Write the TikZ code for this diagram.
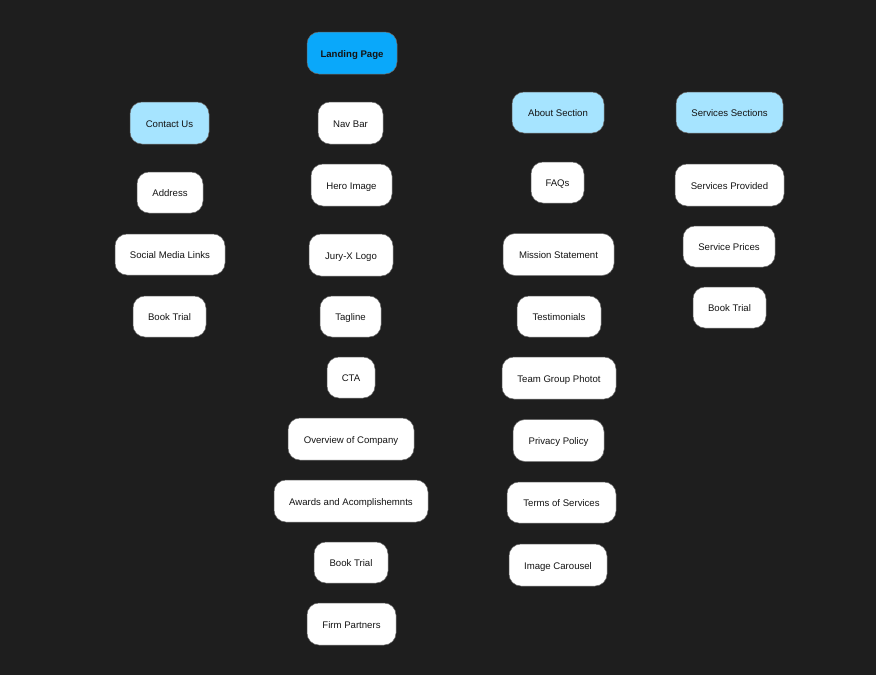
\documentclass[tikz,border=0pt]{standalone}
\usepackage{fontspec}
\setmainfont{Liberation Sans}
\definecolor{bg}{HTML}{1E1E1E}
\definecolor{hub}{HTML}{0AA8FA}
\definecolor{sect}{HTML}{A6E4FF}
\definecolor{txt}{HTML}{141414}
\definecolor{edge}{HTML}{6A6A6A}
\begin{document}
\begin{tikzpicture}[x=1pt,y=-1pt,
  box/.style={draw=edge,line width=0.5pt,rounded corners=12pt,fill=white,inner sep=0pt,
    text=txt,font=\fontsize{9.6}{11}\selectfont,anchor=center,text height=8.6pt,text depth=0pt},
  sectbox/.style={box,fill=sect},
  hubbox/.style={box,fill=hub,font=\fontsize{9.6}{11}\selectfont\bfseries}]
\fill[bg] (0,0) rectangle (876,675);
\useasboundingbox (0,0) rectangle (876,675);
\node[hubbox,minimum width=90pt,minimum height=42pt] (landing) at (352,53) {Landing Page};
\node[sectbox,minimum width=79pt,minimum height=42pt] (contact) at (169.5,123) {Contact Us};
\node[box,minimum width=65pt,minimum height=42pt] (nav) at (350.5,123) {Nav Bar};
\node[sectbox,minimum width=92pt,minimum height=41pt] (about) at (558,112.5) {About Section};
\node[sectbox,minimum width=107pt,minimum height=41pt] (services) at (729.5,112.5) {Services Sections};
\node[box,minimum width=66pt,minimum height=41pt] (address) at (170,192.5) {Address};
\node[box,minimum width=81pt,minimum height=42pt] (hero) at (351.5,185) {Hero Image};
\node[box,minimum width=53pt,minimum height=41pt] (faqs) at (557.5,182.5) {FAQs};
\node[box,minimum width=109pt,minimum height=42pt] (provided) at (729.5,185) {Services Provided};
\node[box,minimum width=110pt,minimum height=41pt] (social) at (170,254.5) {Social Media Links};
\node[box,minimum width=84pt,minimum height=42pt] (logo) at (351,255) {Jury-X Logo};
\node[box,minimum width=111pt,minimum height=42pt] (mission) at (558.5,254.5) {Mission Statement};
\node[box,minimum width=92pt,minimum height=41pt] (prices) at (729,246.5) {Service Prices};
\node[box,minimum width=73pt,minimum height=41pt] (bookL) at (169.5,316.5) {Book Trial};
\node[box,minimum width=61pt,minimum height=41pt] (tagline) at (350.5,316.5) {Tagline};
\node[box,minimum width=84pt,minimum height=41pt] (testi) at (559,316.5) {Testimonials};
\node[box,minimum width=73pt,minimum height=41pt] (bookR) at (729.5,307.5) {Book Trial};
\node[box,minimum width=48pt,minimum height=41pt] (cta) at (351,377.5) {CTA};
\node[box,minimum width=114pt,minimum height=42pt] (team) at (559,378) {Team Group Photot};
\node[box,minimum width=126pt,minimum height=42pt] (overview) at (351,439) {Overview of Company};
\node[box,minimum width=91pt,minimum height=42pt] (privacy) at (558.5,440.5) {Privacy Policy};
\node[box,minimum width=154pt,minimum height=42pt] (awards) at (351,501) {Awards and Acomplishemnts};
\node[box,minimum width=109pt,minimum height=41pt] (terms) at (561.5,502.5) {Terms of Services};
\node[box,minimum width=74pt,minimum height=41pt] (bookM) at (351,562.5) {Book Trial};
\node[box,minimum width=98pt,minimum height=42pt] (carousel) at (558,565) {Image Carousel};
\node[box,minimum width=89pt,minimum height=42pt] (firm) at (351.5,624) {Firm Partners};
\end{tikzpicture}
\end{document}
